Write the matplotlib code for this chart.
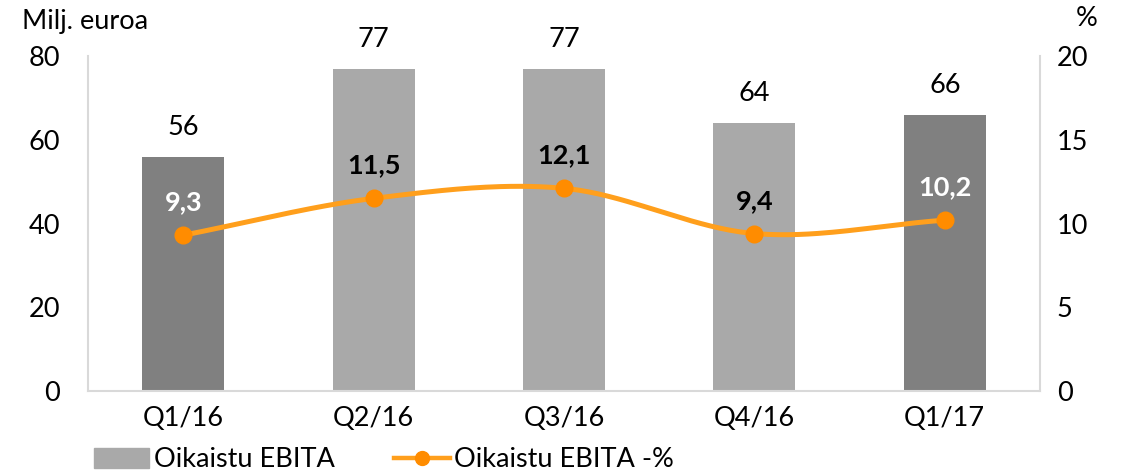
import numpy as np
import matplotlib.pyplot as plt
from matplotlib.patches import Patch
from matplotlib.lines import Line2D

plt.rcParams['font.family'] = ['Lato', 'DejaVu Sans']

quarters = ['Q1/16', 'Q2/16', 'Q3/16', 'Q4/16', 'Q1/17']
ebita = [56, 77, 77, 64, 66]
ebita_pct = [9.3, 11.5, 12.1, 9.4, 10.2]
pct_labels = ['9,3', '11,5', '12,1', '9,4', '10,2']
dark = [True, False, False, False, True]

DARK = '#808080'
LIGHT = '#a9a9a9'
ORANGE = '#ff9f1c'
MARKER = '#ff8c00'
FS = 19.5


def smooth(xs, ys, n=40):
    # Catmull-Rom spline, like the "smoothed line" option in spreadsheets
    xs = np.asarray(xs, float)
    ys = np.asarray(ys, float)
    px = np.concatenate([[2 * xs[0] - xs[1]], xs, [2 * xs[-1] - xs[-2]]])
    py = np.concatenate([[2 * ys[0] - ys[1]], ys, [2 * ys[-1] - ys[-2]]])
    ox, oy = [], []
    t = np.linspace(0, 1, n)
    for i in range(1, len(px) - 2):
        for p, out in ((px, ox), (py, oy)):
            p0, p1, p2, p3 = p[i - 1], p[i], p[i + 1], p[i + 2]
            out.extend(0.5 * ((2 * p1) + (-p0 + p2) * t
                              + (2 * p0 - 5 * p1 + 4 * p2 - p3) * t ** 2
                              + (-p0 + 3 * p1 - 3 * p2 + p3) * t ** 3))
    return np.array(ox), np.array(oy)


fig = plt.figure(figsize=(11.22, 4.70), dpi=100)
ax = fig.add_axes([88 / 1122, 1 - 391 / 470, (1040 - 88) / 1122, (391 - 56) / 470])
x = np.arange(len(quarters))

colors = [DARK if d else LIGHT for d in dark]
ax.bar(x, ebita, width=0.43, color=colors, zorder=2)
for xi, v in zip(x, ebita):
    ax.annotate(str(v), (xi, v), xytext=(0, 12), textcoords='offset points',
                ha='center', va='bottom', fontsize=FS)

ax.set_xlim(-0.5, len(quarters) - 0.5)
ax.set_ylim(0, 80)
ax.set_yticks([0, 20, 40, 60, 80])
ax.set_xticks(x)
ax.set_xticklabels(quarters)
ax.tick_params(axis='both', length=0, labelsize=FS)
ax.tick_params(axis='y', pad=20)
ax.tick_params(axis='x', pad=11)
ax.spines['top'].set_visible(False)
for side in ('left', 'right', 'bottom'):
    ax.spines[side].set_color('#d9d9d9')
    ax.spines[side].set_linewidth(1.5)

ax2 = ax.twinx()
ax2.set_ylim(0, 20)
ax2.set_yticks([0, 5, 10, 15, 20])
ax2.tick_params(axis='y', length=0, labelsize=FS, pad=12)
for s in ax2.spines.values():
    s.set_visible(False)

sx, sy = smooth(x, ebita_pct)
ax2.plot(sx, sy, color=ORANGE, lw=3.6, zorder=3, solid_capstyle='round')
ax2.plot(x, ebita_pct, 'o', color=MARKER, ms=12, zorder=4)
for xi, v, lab, d in zip(x, ebita_pct, pct_labels, dark):
    ax2.annotate(lab, (xi, v), xytext=(0, 15), textcoords='offset points',
                 ha='center', va='bottom', fontsize=FS, fontweight='bold',
                 color='white' if d else 'black')

fig.text(22 / 1122, 1 - 21 / 470, 'Milj. euroa', fontsize=FS, va='center', ha='left')
fig.text(1087 / 1122, 1 - 19 / 470, '%', fontsize=FS, va='center', ha='center')

handles = [Patch(color=LIGHT),
           Line2D([0], [0], color=ORANGE, lw=3.2, marker='o', ms=10,
                  markerfacecolor=MARKER, markeredgecolor=MARKER)]
fig.legend(handles, ['Oikaistu EBITA', 'Oikaistu EBITA -%'], ncol=2,
           loc='lower left', bbox_to_anchor=(75 / 1122, -0.045), frameon=False,
           fontsize=FS, handlelength=2.05, handletextpad=0.15, columnspacing=2.2,
           handleheight=0.75, borderaxespad=0.3)

fig.savefig('out.png', dpi=100)
